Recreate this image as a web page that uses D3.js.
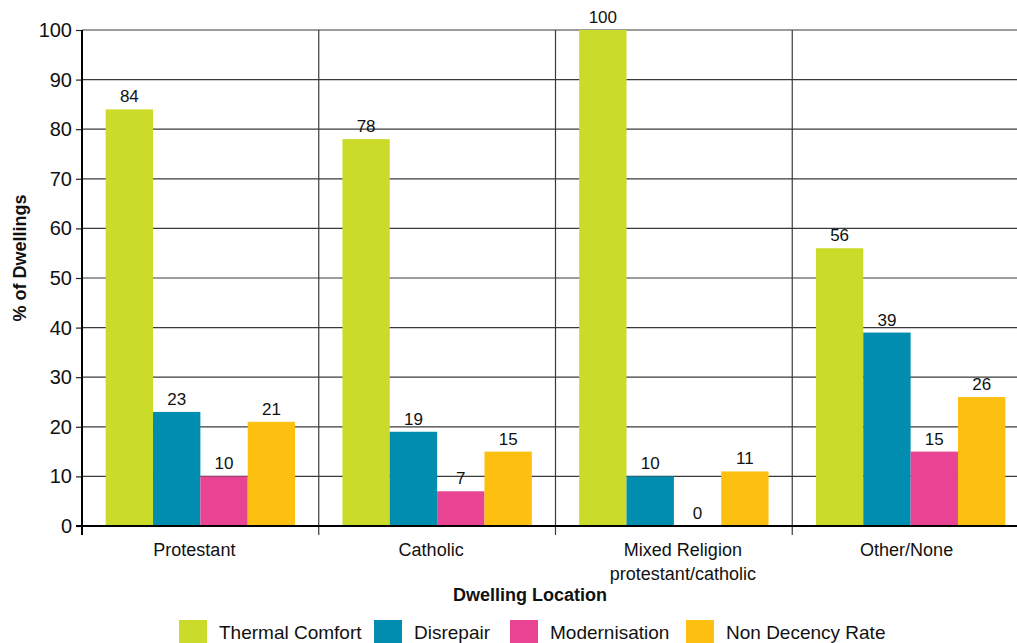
<!DOCTYPE html>
<html>
<head>
<meta charset="utf-8">
<script src="https://cdn.jsdelivr.net/npm/d3@7"></script>
<style>
  html, body { margin: 0; padding: 0; background: #fff; }
  svg { display: block; font-family: "Liberation Sans", Arial, Helvetica, sans-serif; }
</style>
</head>
<body>
<svg id="chart" width="1017" height="643"></svg>
<script>
// Dwelling location categories (second line used for wrapped labels)
const categories = ["Protestant", "Catholic", "Mixed Religion\nprotestant/catholic", "Other/None"];
const seriesNames = ["Thermal Comfort", "Disrepair", "Modernisation", "Non Decency Rate"];
const seriesColors = ["#CBDB2A", "#008DB0", "#E94493", "#FEC010"];

// Percent of dwellings, one array per series (in category order)
const thermalComfort = [84, 78, 100, 56];
const disrepair      = [23, 19, 10, 39];
const modernisation  = [10, 7, 0, 15];
const nonDecency     = [21, 15, 11, 26];

const yTicks = [0, 10, 20, 30, 40, 50, 60, 70, 80, 90, 100];

const seriesValues = [thermalComfort, disrepair, modernisation, nonDecency];

const svg = d3.select("#chart");
const W = 1017, H = 643;
const plotL = 82, plotR = 1029, plotT = 30, plotB = 526;

const x = d3.scaleBand().domain(categories).range([plotL, plotR]).paddingInner(0).paddingOuter(0);
const bw = x.bandwidth();
const xs = d3.scaleBand().domain(seriesNames).range([bw * 0.1, bw * 0.9]).padding(0);
const y = d3.scaleLinear().domain([0, 100]).range([plotB, plotT]);

// horizontal gridlines with ticks on the left
const gy = svg.append("g").attr("transform", `translate(${plotL},0)`)
  .call(d3.axisLeft(y).tickValues(yTicks).tickSize(6).tickPadding(4));
gy.select(".domain").remove();
gy.selectAll(".tick line").attr("stroke", "#222").attr("stroke-width", 1.2);
gy.selectAll(".tick text").attr("font-size", 20).attr("fill", "#111")
  .attr("font-family", "Liberation Sans, Arial, sans-serif");
svg.append("g").selectAll("line").data(yTicks.filter(d => d > 0)).join("line")
  .attr("x1", plotL).attr("x2", W)
  .attr("y1", d => y(d)).attr("y2", d => y(d))
  .attr("stroke", "#3a3a3a").attr("stroke-width", 1.2);

// vertical separators between groups, extending below axis as ticks
const bounds = categories.map(c => x(c)).concat([plotR]);
svg.append("g").selectAll("line").data(bounds.slice(1)).join("line")
  .attr("x1", d => d).attr("x2", d => d)
  .attr("y1", plotT).attr("y2", plotB + 9)
  .attr("stroke", "#3a3a3a").attr("stroke-width", 1.2);

// bars
const groups = svg.append("g").selectAll("g").data(categories).join("g")
  .attr("transform", c => `translate(${x(c)},0)`);
groups.each(function(c, ci) {
  const g = d3.select(this);
  seriesNames.forEach((s, si) => {
    const v = seriesValues[si][ci];
    g.append("rect")
      .attr("x", xs(s)).attr("width", xs.bandwidth())
      .attr("y", y(v)).attr("height", y(0) - y(v))
      .attr("fill", seriesColors[si]);
    g.append("text")
      .attr("x", xs(s) + xs.bandwidth() / 2)
      .attr("y", y(v) - 7)
      .attr("text-anchor", "middle")
      .attr("font-size", 17).attr("fill", "#111")
      .text(v);
  });
});

// left axis line and zero baseline
svg.append("line").attr("x1", plotL).attr("x2", plotL).attr("y1", plotT).attr("y2", plotB + 9)
  .attr("stroke", "#000").attr("stroke-width", 2);
svg.append("line").attr("x1", plotL - 6).attr("x2", W).attr("y1", y(0)).attr("y2", y(0))
  .attr("stroke", "#000").attr("stroke-width", 2.2);

// category labels (small horizontal nudges per label)
const labelNudge = [-6, -6, 9, -4];
categories.forEach((c, ci) => {
  const lines = c.split("\n");
  const t = svg.append("text").attr("text-anchor", "middle").attr("font-size", 18).attr("fill", "#111");
  lines.forEach((ln, i) => {
    t.append("tspan").attr("x", x(c) + bw / 2 + labelNudge[ci]).attr("y", 556 + i * 24).text(ln);
  });
});

// axis titles
svg.append("text").attr("x", 530).attr("y", 601).attr("text-anchor", "middle")
  .attr("font-size", 18).attr("font-weight", "bold").attr("fill", "#111").text("Dwelling Location");
svg.append("text").attr("transform", "translate(26,258) rotate(-90)").attr("text-anchor", "middle")
  .attr("font-size", 18).attr("font-weight", "bold").attr("fill", "#111").text("% of Dwellings");

// legend
const legendX = [179, 374, 510, 686];
const legend = svg.append("g");
seriesNames.forEach((s, i) => {
  legend.append("rect").attr("x", legendX[i]).attr("y", 620).attr("width", 28).attr("height", 24)
    .attr("fill", seriesColors[i]);
  legend.append("text").attr("x", legendX[i] + 40).attr("y", 639)
    .attr("font-size", 19).attr("fill", "#111").text(s);
});
</script>
</body>
</html>
